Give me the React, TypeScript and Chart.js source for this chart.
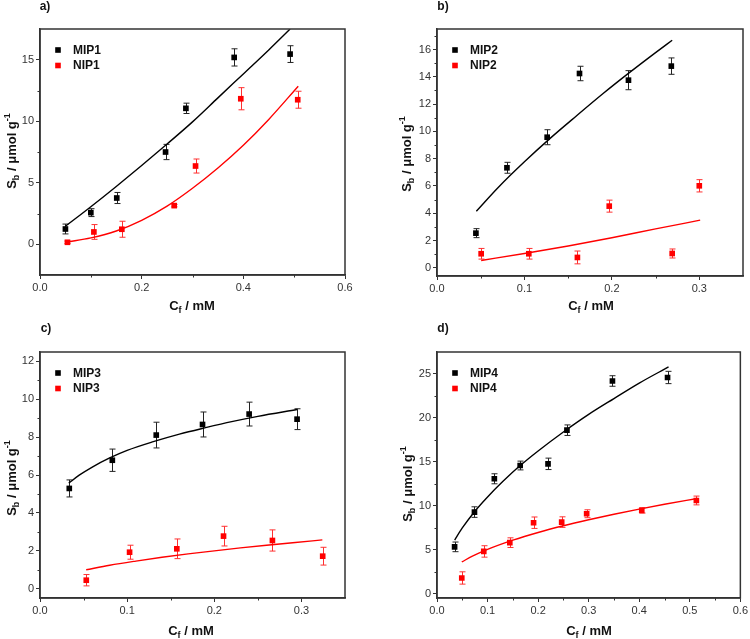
import React, { useEffect, useRef } from "react";
import { Chart, registerables } from "chart.js";
Chart.register(...registerables);

// ---------- Panel a ----------
const mip1X = [0.05, 0.1, 0.151, 0.247, 0.287, 0.382, 0.492];
const mip1Y = [1.24, 2.57, 3.76, 7.5, 11.05, 15.19, 15.46];
const mip1Err = [0.4, 0.32, 0.45, 0.62, 0.42, 0.7, 0.68];
const nip1X = [0.054, 0.106, 0.161, 0.264, 0.306, 0.395, 0.507];
const nip1Y = [0.16, 1.0, 1.22, 3.14, 6.36, 11.83, 11.75];
const nip1Err = [0.1, 0.6, 0.65, 0.1, 0.57, 0.9, 0.69];
const mip1FitX = [0.05, 0.1, 0.15, 0.2, 0.25, 0.3, 0.35, 0.4, 0.45, 0.492];
const mip1FitY = [1.46, 3.05, 4.7, 6.4, 8.15, 9.95, 11.9, 13.85, 15.8, 17.5];
const nip1FitX = [0.053, 0.1, 0.15, 0.2, 0.25, 0.3, 0.35, 0.4, 0.45, 0.508];
const nip1FitY = [0.18, 0.52, 1.08, 1.95, 3.1, 4.55, 6.2, 8.05, 10.15, 12.85];

// ---------- Panel b ----------
const mip2X = [0.0445, 0.08, 0.126, 0.163, 0.219, 0.268];
const mip2Y = [2.54, 7.33, 9.57, 14.24, 13.75, 14.78];
const mip2Err = [0.33, 0.4, 0.55, 0.53, 0.7, 0.6];
const nip2X = [0.0505, 0.105, 0.1606, 0.197, 0.269, 0.3];
const nip2Y = [1.03, 1.03, 0.76, 4.52, 1.05, 6.01];
const nip2Err = [0.39, 0.39, 0.47, 0.44, 0.33, 0.45];
const mip2FitX = [0.045, 0.07, 0.1, 0.13, 0.16, 0.19, 0.22, 0.25, 0.269];
const mip2FitY = [4.15, 5.89, 7.77, 9.52, 11.16, 12.77, 14.3, 15.77, 16.68];
const nip2FitX = [0.0505, 0.1, 0.15, 0.2, 0.25, 0.301];
const nip2FitY = [0.54, 1.05, 1.6, 2.2, 2.85, 3.49];

// ---------- Panel c ----------
const mip3X = [0.0336, 0.083, 0.1334, 0.1865, 0.24, 0.295];
const mip3Y = [5.29, 6.78, 8.11, 8.67, 9.22, 8.95];
const mip3Err = [0.45, 0.59, 0.68, 0.66, 0.63, 0.55];
const nip3X = [0.0531, 0.1028, 0.157, 0.2106, 0.2667, 0.3244];
const nip3Y = [0.44, 1.92, 2.1, 2.77, 2.54, 1.71];
const nip3Err = [0.3, 0.37, 0.52, 0.52, 0.56, 0.47];
const mip3FitX = [0.033, 0.045, 0.06, 0.08, 0.1, 0.13, 0.16, 0.19, 0.22, 0.25, 0.295];
const mip3FitY = [5.57, 5.99, 6.42, 6.9, 7.3, 7.76, 8.16, 8.5, 8.82, 9.1, 9.46];
const nip3FitX = [0.053, 0.08, 0.11, 0.14, 0.17, 0.2, 0.23, 0.26, 0.29, 0.324];
const nip3FitY = [0.99, 1.23, 1.45, 1.65, 1.83, 1.99, 2.15, 2.29, 2.42, 2.57];

// ---------- Panel d ----------
const mip4X = [0.0348, 0.0741, 0.1134, 0.1645, 0.2196, 0.257, 0.347, 0.456];
const mip4Y = [5.32, 9.28, 13.07, 14.58, 14.77, 18.6, 24.2, 24.6];
const mip4Err = [0.55, 0.6, 0.57, 0.5, 0.65, 0.6, 0.6, 0.7];
const nip4X = [0.049, 0.0925, 0.144, 0.191, 0.2466, 0.296, 0.405, 0.513];
const nip4Y = [1.78, 4.8, 5.8, 8.07, 8.14, 9.09, 9.47, 10.6];
const nip4Err = [0.7, 0.65, 0.55, 0.65, 0.6, 0.45, 0.3, 0.5];
const mip4FitX = [0.035, 0.05, 0.075, 0.1, 0.13, 0.165, 0.2, 0.25, 0.3, 0.35, 0.4, 0.458];
const mip4FitY = [6.1, 7.47, 9.38, 11.0, 12.75, 14.6, 16.24, 18.4, 20.4, 22.2, 23.96, 25.8];
const nip4FitX = [0.049, 0.07, 0.1, 0.15, 0.2, 0.25, 0.3, 0.35, 0.4, 0.45, 0.515];
const nip4FitY = [3.6, 4.26, 5.03, 6.08, 6.96, 7.72, 8.4, 9.03, 9.62, 10.17, 10.83];

// ---------- Ticks ----------
const xTicksA = [0, 0.2, 0.4, 0.6];
const xMinorA = [0.1, 0.3, 0.5];
const yTicksA = [0, 5, 10, 15];
const yMinorA = [2.5, 7.5, 12.5];
const xTicksB = [0, 0.1, 0.2, 0.3];
const xMinorB = [0.05, 0.15, 0.25];
const yTicksB = [0, 2, 4, 6, 8, 10, 12, 14, 16];
const yMinorB = [1, 3, 5, 7, 9, 11, 13, 15, 17];
const xTicksC = [0, 0.1, 0.2, 0.3];
const xMinorC = [0.05, 0.15, 0.25];
const yTicksC = [0, 2, 4, 6, 8, 10, 12];
const yMinorC = [1, 3, 5, 7, 9, 11];
const xTicksD = [0, 0.1, 0.2, 0.3, 0.4, 0.5, 0.6];
const xMinorD = [0.05, 0.15, 0.25, 0.35, 0.45, 0.55];
const yTicksD = [0, 5, 10, 15, 20, 25];
const yMinorD = [2.5, 7.5, 12.5, 17.5, 22.5];

const FONT = '"Liberation Sans", Arial, Helvetica, sans-serif';
const BLACK = "#000000";
const RED = "#ff0000";
const AXIS = "#333333";

const zip = (xs: number[], ys: number[]) => xs.map((x, i) => ({ x, y: ys[i] }));

const panelPlugin = {
  id: "panelDeco",
  beforeDatasetsDraw(chart: any) {
    const ctx = chart.ctx;
    const ys = chart.scales.y;
    ctx.save();
    chart.data.datasets.forEach((ds: any, i: number) => {
      if (!ds.errors) return;
      const meta = chart.getDatasetMeta(i);
      ctx.strokeStyle = ds.errColor || ds.backgroundColor;
      ctx.lineWidth = 1;
      meta.data.forEach((el: any, j: number) => {
        const v = ds.data[j].y;
        const e = ds.errors[j];
        const t = ys.getPixelForValue(v + e);
        const b = ys.getPixelForValue(v - e);
        const x = Math.round(el.x) + 0.5;
        ctx.beginPath();
        ctx.moveTo(x, t);
        ctx.lineTo(x, b);
        ctx.moveTo(x - 3, t);
        ctx.lineTo(x + 3, t);
        ctx.moveTo(x - 3, b);
        ctx.lineTo(x + 3, b);
        ctx.stroke();
      });
    });
    ctx.restore();
  },
  afterDraw(chart: any, _args: any, opts: any) {
    const ctx = chart.ctx;
    const a = chart.chartArea;
    const xs = chart.scales.x;
    const ys = chart.scales.y;
    ctx.save();
    ctx.strokeStyle = AXIS;
    ctx.lineWidth = 1.5;
    ctx.strokeRect(a.left, a.top, a.right - a.left, a.bottom - a.top);
    ctx.lineWidth = 1;
    ctx.beginPath();
    (opts.minorX || []).forEach((v: number) => {
      const px = Math.round(xs.getPixelForValue(v)) + 0.5;
      ctx.moveTo(px, a.bottom);
      ctx.lineTo(px, a.bottom + 2.5);
    });
    (opts.minorY || []).forEach((v: number) => {
      const py = Math.round(ys.getPixelForValue(v)) + 0.5;
      ctx.moveTo(a.left, py);
      ctx.lineTo(a.left - 2.5, py);
    });
    ctx.stroke();
    // legend
    const lx = a.left + 18;
    const ly = a.top + 21;
    let k = 0;
    chart.data.datasets.forEach((ds: any) => {
      if (!ds.legend) return;
      const y = ly + k * 15.5;
      ctx.fillStyle = ds.backgroundColor;
      ctx.fillRect(lx - 2.8, y - 2.8, 5.6, 5.6);
      ctx.fillStyle = "#111";
      ctx.font = "bold 12px " + FONT;
      ctx.textBaseline = "middle";
      ctx.textAlign = "left";
      ctx.fillText(ds.label, lx + 15, y + 0.5);
      k++;
    });
    ctx.restore();
  },
};

type Cfg = {
  left: number;
  top: number;
  w: number;
  h: number;
  area: { left: number; top: number; right: number; bottom: number };
  xMin: number;
  xMax: number;
  yMin: number;
  yMax: number;
  xTicks: number[];
  xMinor: number[];
  yTicks: number[];
  yMinor: number[];
  mipLabel: string;
  nipLabel: string;
  mipX: number[];
  mipY: number[];
  mipErr: number[];
  nipX: number[];
  nipY: number[];
  nipErr: number[];
  mipFitX: number[];
  mipFitY: number[];
  nipFitX: number[];
  nipFitY: number[];
};

function Panel({ cfg }: { cfg: Cfg }) {
  const ref = useRef<HTMLCanvasElement>(null);
  useEffect(() => {
    const tickFont = { family: FONT, size: 11 };
    const chart = new Chart(ref.current as HTMLCanvasElement, {
      type: "scatter",
      data: {
        datasets: [
          {
            label: cfg.mipLabel + " fit",
            data: zip(cfg.mipFitX, cfg.mipFitY),
            showLine: true,
            borderColor: BLACK,
            backgroundColor: BLACK,
            borderWidth: 1.4,
            pointRadius: 0,
            cubicInterpolationMode: "monotone",
          } as any,
          {
            label: cfg.nipLabel + " fit",
            data: zip(cfg.nipFitX, cfg.nipFitY),
            showLine: true,
            borderColor: RED,
            backgroundColor: RED,
            borderWidth: 1.4,
            pointRadius: 0,
            cubicInterpolationMode: "monotone",
          } as any,
          {
            label: cfg.mipLabel,
            legend: true,
            data: zip(cfg.mipX, cfg.mipY),
            errors: cfg.mipErr,
            errColor: "#222222",
            pointStyle: "rect",
            pointRadius: 4,
            pointBorderWidth: 0,
            backgroundColor: BLACK,
            borderColor: BLACK,
          } as any,
          {
            label: cfg.nipLabel,
            legend: true,
            data: zip(cfg.nipX, cfg.nipY),
            errors: cfg.nipErr,
            errColor: "#ff3030",
            pointStyle: "rect",
            pointRadius: 4,
            pointBorderWidth: 0,
            backgroundColor: RED,
            borderColor: RED,
          } as any,
        ],
      },
      options: {
        responsive: false,
        maintainAspectRatio: false,
        animation: false,
        devicePixelRatio: 1,
        layout: {
          padding: { top: cfg.area.top, right: cfg.w - cfg.area.right, left: 0, bottom: 0 },
        },
        scales: {
          x: {
            type: "linear",
            min: cfg.xMin,
            max: cfg.xMax,
            afterFit: (s: any) => {
              s.height = cfg.h - cfg.area.bottom;
            },
            afterBuildTicks: (s: any) => {
              s.ticks = cfg.xTicks.map((v) => ({ value: v }));
            },
            ticks: {
              callback: (v: any) => Number(v).toFixed(1),
              font: tickFont,
              color: AXIS,
              padding: 2,
              maxRotation: 0,
              autoSkip: false,
            },
            grid: { drawOnChartArea: false, tickLength: 4, color: AXIS, tickWidth: 1 },
            border: { color: AXIS, width: 1.5 },
          },
          y: {
            type: "linear",
            min: cfg.yMin,
            max: cfg.yMax,
            afterFit: (s: any) => {
              s.width = cfg.area.left;
            },
            afterBuildTicks: (s: any) => {
              s.ticks = cfg.yTicks.map((v) => ({ value: v }));
            },
            ticks: {
              callback: (v: any) => String(v),
              font: tickFont,
              color: AXIS,
              padding: 2,
              autoSkip: false,
            },
            grid: { drawOnChartArea: false, tickLength: 4, color: AXIS, tickWidth: 1 },
            border: { color: AXIS, width: 1.5 },
          },
        },
        plugins: {
          legend: { display: false },
          tooltip: { enabled: false },
          panelDeco: { minorX: cfg.xMinor, minorY: cfg.yMinor },
        } as any,
      },
      plugins: [panelPlugin as any],
    });
    return () => chart.destroy();
  }, []);
  return (
    <canvas
      ref={ref}
      width={cfg.w}
      height={cfg.h}
      style={{ position: "absolute", left: cfg.left, top: cfg.top, width: cfg.w, height: cfg.h }}
    />
  );
}

const panels: Cfg[] = [
  {
    left: 0, top: 0, w: 375, h: 310,
    area: { left: 40, top: 29, right: 345, bottom: 275 },
    xMin: 0, xMax: 0.6, yMin: -2.5, yMax: 17.5,
    xTicks: xTicksA, xMinor: xMinorA, yTicks: yTicksA, yMinor: yMinorA,
    mipLabel: "MIP1", nipLabel: "NIP1",
    mipX: mip1X, mipY: mip1Y, mipErr: mip1Err,
    nipX: nip1X, nipY: nip1Y, nipErr: nip1Err,
    mipFitX: mip1FitX, mipFitY: mip1FitY, nipFitX: nip1FitX, nipFitY: nip1FitY,
  },
  {
    left: 375, top: 0, w: 375, h: 310,
    area: { left: 62, top: 29, right: 368, bottom: 276 },
    xMin: 0, xMax: 0.35, yMin: -0.6, yMax: 17.5,
    xTicks: xTicksB, xMinor: xMinorB, yTicks: yTicksB, yMinor: yMinorB,
    mipLabel: "MIP2", nipLabel: "NIP2",
    mipX: mip2X, mipY: mip2Y, mipErr: mip2Err,
    nipX: nip2X, nipY: nip2Y, nipErr: nip2Err,
    mipFitX: mip2FitX, mipFitY: mip2FitY, nipFitX: nip2FitX, nipFitY: nip2FitY,
  },
  {
    left: 0, top: 310, w: 375, h: 329,
    area: { left: 40, top: 42, right: 345, bottom: 288 },
    xMin: 0, xMax: 0.35, yMin: -0.5, yMax: 12.5,
    xTicks: xTicksC, xMinor: xMinorC, yTicks: yTicksC, yMinor: yMinorC,
    mipLabel: "MIP3", nipLabel: "NIP3",
    mipX: mip3X, mipY: mip3Y, mipErr: mip3Err,
    nipX: nip3X, nipY: nip3Y, nipErr: nip3Err,
    mipFitX: mip3FitX, mipFitY: mip3FitY, nipFitX: nip3FitX, nipFitY: nip3FitY,
  },
  {
    left: 375, top: 310, w: 375, h: 329,
    area: { left: 62, top: 42, right: 368, bottom: 288 },
    xMin: 0, xMax: 0.6, yMin: -0.5, yMax: 27.5,
    xTicks: xTicksD, xMinor: xMinorD, yTicks: yTicksD, yMinor: yMinorD,
    mipLabel: "MIP4", nipLabel: "NIP4",
    mipX: mip4X, mipY: mip4Y, mipErr: mip4Err,
    nipX: nip4X, nipY: nip4Y, nipErr: nip4Err,
    mipFitX: mip4FitX, mipFitY: mip4FitY, nipFitX: nip4FitX, nipFitY: nip4FitY,
  },
];

const panelLabels = ["a)", "b)", "c)", "d)"];
const labelPos = [
  [45, 6],
  [443, 6],
  [46, 328],
  [443, 328],
];
const yTitlePos = [
  [12, 151],
  [407, 154],
  [12, 478],
  [408, 484],
];
const xTitlePos = [
  [192, 306],
  [591, 306],
  [191, 631],
  [589, 631],
];

const textBase: React.CSSProperties = {
  position: "absolute",
  whiteSpace: "nowrap",
  fontFamily: FONT,
  fontWeight: "bold",
  color: "#111",
  lineHeight: "16px",
};
const smallSub: React.CSSProperties = { fontSize: "9px", position: "relative", top: "3px" };
const smallSup: React.CSSProperties = { fontSize: "9px", position: "relative", top: "-6px" };

function YTitle({ x, y }: { x: number; y: number }) {
  return (
    <div
      style={{
        ...textBase,
        fontSize: "13px",
        left: x,
        top: y,
        transform: "translate(-50%, -50%) rotate(-90deg)",
      }}
    >
      S<span style={smallSub}>b</span> / μmol g<span style={smallSup}>-1</span>
    </div>
  );
}

function XTitle({ x, y }: { x: number; y: number }) {
  return (
    <div
      style={{
        ...textBase,
        fontSize: "13px",
        left: x,
        top: y,
        transform: "translate(-50%, -50%)",
      }}
    >
      C<span style={smallSub}>f</span> / mM
    </div>
  );
}

export default function App() {
  return (
    <div
      style={{
        position: "absolute",
        left: 0,
        top: 0,
        width: 750,
        height: 639,
        background: "#ffffff",
        overflow: "hidden",
      }}
    >
      {panels.map((p, i) => (
        <Panel key={i} cfg={p} />
      ))}
      {panelLabels.map((t, i) => (
        <div
          key={"l" + i}
          style={{
            ...textBase,
            fontSize: "12px",
            left: labelPos[i][0],
            top: labelPos[i][1],
            transform: "translate(-50%, -50%)",
          }}
        >
          {t}
        </div>
      ))}
      {yTitlePos.map((p, i) => (
        <YTitle key={"y" + i} x={p[0]} y={p[1]} />
      ))}
      {xTitlePos.map((p, i) => (
        <XTitle key={"x" + i} x={p[0]} y={p[1]} />
      ))}
    </div>
  );
}
